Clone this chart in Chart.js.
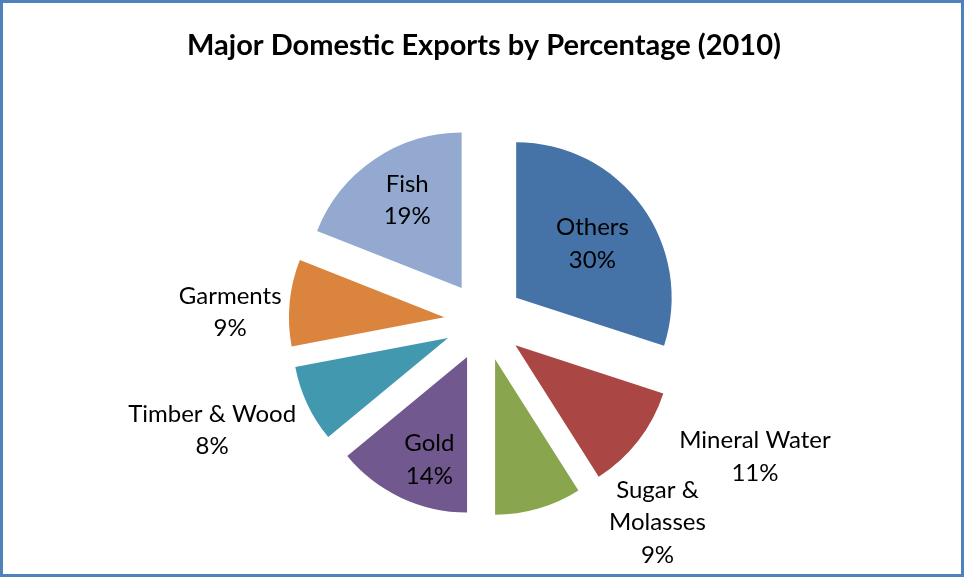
<!DOCTYPE html>
<html>
<head>
<meta charset="utf-8">
<title>Major Domestic Exports by Percentage (2010)</title>
<script src="https://cdn.jsdelivr.net/npm/chart.js@4"></script>
<style>
    html, body { margin: 0; padding: 0; background: #ffffff; }
    #frame {
        position: absolute;
        left: 0; top: 0;
        width: 958px; height: 571px;
        border: 3px solid #4f81bd;
        background: #ffffff;
    }
    #exports-chart { display: block; }
</style>
</head>
<body>
<div id="frame">
    <canvas id="exports-chart" width="958" height="571"></canvas>
</div>
<script>
const categories = ['Others', 'Mineral Water', ['Sugar &', 'Molasses'], 'Gold', 'Timber & Wood', 'Garments', 'Fish'];
const values     = [30, 11, 9, 14, 8, 9, 19];
const colours    = ['#4572a7', '#aa4643', '#89a54e', '#71588f', '#4198af', '#db843d', '#93a9cf'];

// label spot per slice: [distance from pie centre in px, degrees off the slice bisector]
const labelSpots = [[133, 0.6], [303, -11.2], [266, -24.5], [149, -3.7], [293, 3.3], [254, -3.4], [143, 1.7]];

const EXPLODE    = 39.75;
const PIE_RADIUS = 155.5;
const LABEL_FONT = '24px Lato';
const LINE_GAP   = 32.5;

// every slice pulled out by the same distance along its bisector
class ExplodedArc extends Chart.ArcElement {
    draw(ctx) {
        const mid = (this.startAngle + this.endAngle) / 2;
        ctx.save();
        ctx.translate(Math.cos(mid) * EXPLODE, Math.sin(mid) * EXPLODE);
        super.draw(ctx);
        ctx.restore();
    }
}
ExplodedArc.id = 'explodedArc';

class ExplodedPieController extends Chart.PieController {}
ExplodedPieController.id = 'explodedPie';
ExplodedPieController.defaults = { dataElementType: 'explodedArc' };

Chart.register(ExplodedArc, ExplodedPieController);

const total = values.reduce((a, b) => a + b, 0);

const sliceLabels = {
    id: 'sliceLabels',
    afterDatasetsDraw(chart) {
        const ctx  = chart.ctx;
        const arcs = chart.getDatasetMeta(0).data;
        ctx.save();
        ctx.font = LABEL_FONT;
        ctx.fillStyle = '#000000';
        ctx.textAlign = 'center';
        ctx.textBaseline = 'middle';
        arcs.forEach(function (arc, i) {
            const p = arc.getProps(['x', 'y', 'startAngle', 'endAngle'], true);
            const spot = labelSpots[i];
            const a  = (p.startAngle + p.endAngle) / 2 + spot[1] * Math.PI / 180;
            const lx = p.x + Math.cos(a) * spot[0];
            const ly = p.y + Math.sin(a) * spot[0];
            const name  = categories[i];
            const lines = (Array.isArray(name) ? name : [name]).concat(Math.round(values[i] / total * 100) + '%');
            const top = ly - (lines.length - 1) * LINE_GAP / 2;
            lines.forEach(function (t, k) { ctx.fillText(t, lx, top + k * LINE_GAP); });
        });
        ctx.restore();
    }
};

new Chart(document.getElementById('exports-chart'), {
    type: 'explodedPie',
    data: {
        labels: categories,
        datasets: [{
            data: values,
            backgroundColor: colours,
            borderWidth: 0,
            hoverOffset: 0
        }]
    },
    options: {
        responsive: false,
        animation: false,
        events: [],
        radius: PIE_RADIUS,
        layout: { padding: { left: 4, right: 0, top: 0, bottom: 0 } },
        plugins: {
            legend: { display: false },
            tooltip: { enabled: false },
            title: {
                display: true,
                text: 'Major Domestic Exports by Percentage (2010)',
                color: '#000000',
                font: { family: 'Lato', weight: 'bold', size: 29 },
                padding: { top: 25, bottom: 5.2 }
            }
        }
    },
    plugins: [sliceLabels]
});
</script>
</body>
</html>
